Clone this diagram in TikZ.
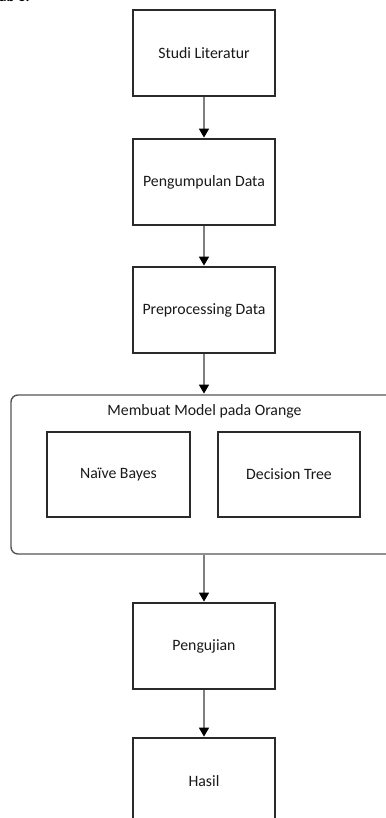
\documentclass[tikz,border=0pt]{standalone}
\usepackage{fontspec}
\setmainfont{Carlito}
\usetikzlibrary{arrows.meta}
\definecolor{boxline}{HTML}{2A2A2A}
\definecolor{conn}{HTML}{7F7F7F}
\begin{document}
\begin{tikzpicture}[x=1pt,y=-1pt,
  stepbox/.style={draw=boxline, line width=1.4pt, fill=white, minimum width=142pt, minimum height=86pt, inner sep=0pt,
    font=\fontsize{15.8}{18}\selectfont, text=black!90},
  groupbox/.style={draw=boxline!80, line width=1.4pt, rounded corners=7pt, inner sep=0pt},
  conn/.style={draw=conn, line width=1.6pt, -{Triangle[length=9pt,width=10pt,fill=black,color=black]}, shorten >=0.7pt}]
\useasboundingbox (0,0) rectangle (385,818);
\node[anchor=base west, font=\bfseries\fontsize{15}{18}\selectfont, inner sep=0pt] (frag) at (-1,1.8) {ab 3.};
% container
\node[groupbox, minimum width=384pt, minimum height=159pt] (model) at (203,474.5) {};
\node[font=\fontsize{15.8}{18}\selectfont, text=black!90, inner sep=0pt] (title) at (204.5,411) {Membuat Model pada Orange};
% boxes
\node[stepbox] (s1) at (204,53) {Studi Literatur};
\node[stepbox] (s2) at (204,182) {Pengumpulan Data};
\node[stepbox] (s3) at (204,310) {Preprocessing Data};
\node[stepbox, minimum width=143pt, minimum height=85pt] (nb) at (118.5,474.5) {Naïve Bayes};
\node[stepbox, minimum width=142pt, minimum height=85pt] (dt) at (289,474.5) {Decision Tree};
\node[stepbox] (s4) at (204,646) {Pengujian};
\node[stepbox] (s5) at (204,781) {Hasil};
% connectors
\draw[conn] (s1.south) -- (s2.north);
\draw[conn] (s2.south) -- (s3.north);
\draw[conn] (s3.south) -- (s3.south |- model.north);
\draw[conn] (s4.north |- model.south) -- (s4.north);
\draw[conn] (s4.south) -- (s5.north);
\end{tikzpicture}
\end{document}
